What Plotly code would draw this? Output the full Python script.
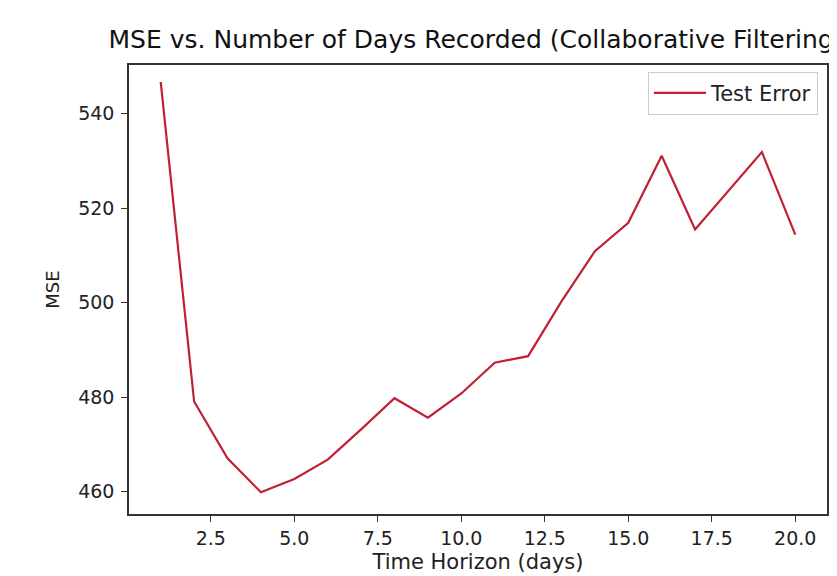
import plotly.graph_objects as go

days = list(range(1, 21))
mse = [546.7, 479.1, 467.1, 459.9, 462.7, 466.8, 473.2, 479.8, 475.7, 480.8,
       487.3, 488.7, 500.3, 510.9, 516.9, 531.1, 515.5, 523.8, 531.9, 514.4]
x_ticks = [2.5, 5.0, 7.5, 10.0, 12.5, 15.0, 17.5, 20.0]
x_tick_labels = ["2.5", "5.0", "7.5", "10.0", "12.5", "15.0", "17.5", "20.0"]
y_ticks = [460, 480, 500, 520, 540]

font = "DejaVu Sans"
fig = go.Figure()
fig.add_trace(go.Scatter(x=days, y=mse, mode="lines", name="Test Error",
                         line=dict(color="#c01f35", width=2.2)))

# page body adds ~7px offset; compensate in size/margins
fig.update_layout(
    width=830, height=569,
    margin=dict(l=121, r=11, t=57, b=63, autoexpand=False),
    paper_bgcolor="white", plot_bgcolor="white",
    font=dict(family=font, size=18, color="#222222"),
    title=dict(text="MSE vs. Number of Days Recorded (Collaborative Filtering)",
               x=468 / 830, xanchor="center", xref="container",
               y=1 - 31 / 569, yanchor="middle", yref="container",
               font=dict(family=font, size=25, color="#111111")),
    showlegend=True,
    legend=dict(x=0.987, xanchor="right", y=0.985, yanchor="top",
                bordercolor="#cccccc", borderwidth=1, bgcolor="white",
                itemwidth=52,
                font=dict(family=font, size=21, color="#222222")),
    xaxis=dict(range=[0.05, 20.95], tickvals=x_ticks, ticktext=x_tick_labels,
               automargin=False,
               showgrid=False, zeroline=False, showline=True, mirror=True,
               linecolor="#333333", linewidth=1.5, ticks="outside", ticklen=6,
               tickcolor="#333333", tickfont=dict(size=19),
               title=dict(text="Time Horizon (days)", standoff=7,
                          font=dict(family=font, size=21))),
    yaxis=dict(range=[455.3, 550.3], tickvals=y_ticks,
               automargin=False,
               showgrid=False, zeroline=False, showline=True, mirror=True,
               linecolor="#333333", linewidth=1.5, ticks="outside", ticklen=6,
               tickcolor="#333333", tickfont=dict(size=19), ticklabelstandoff=3,
               title=dict(text="MSE", standoff=14,
                          font=dict(family=font, size=18))),
)

fig.write_html("out.html")
